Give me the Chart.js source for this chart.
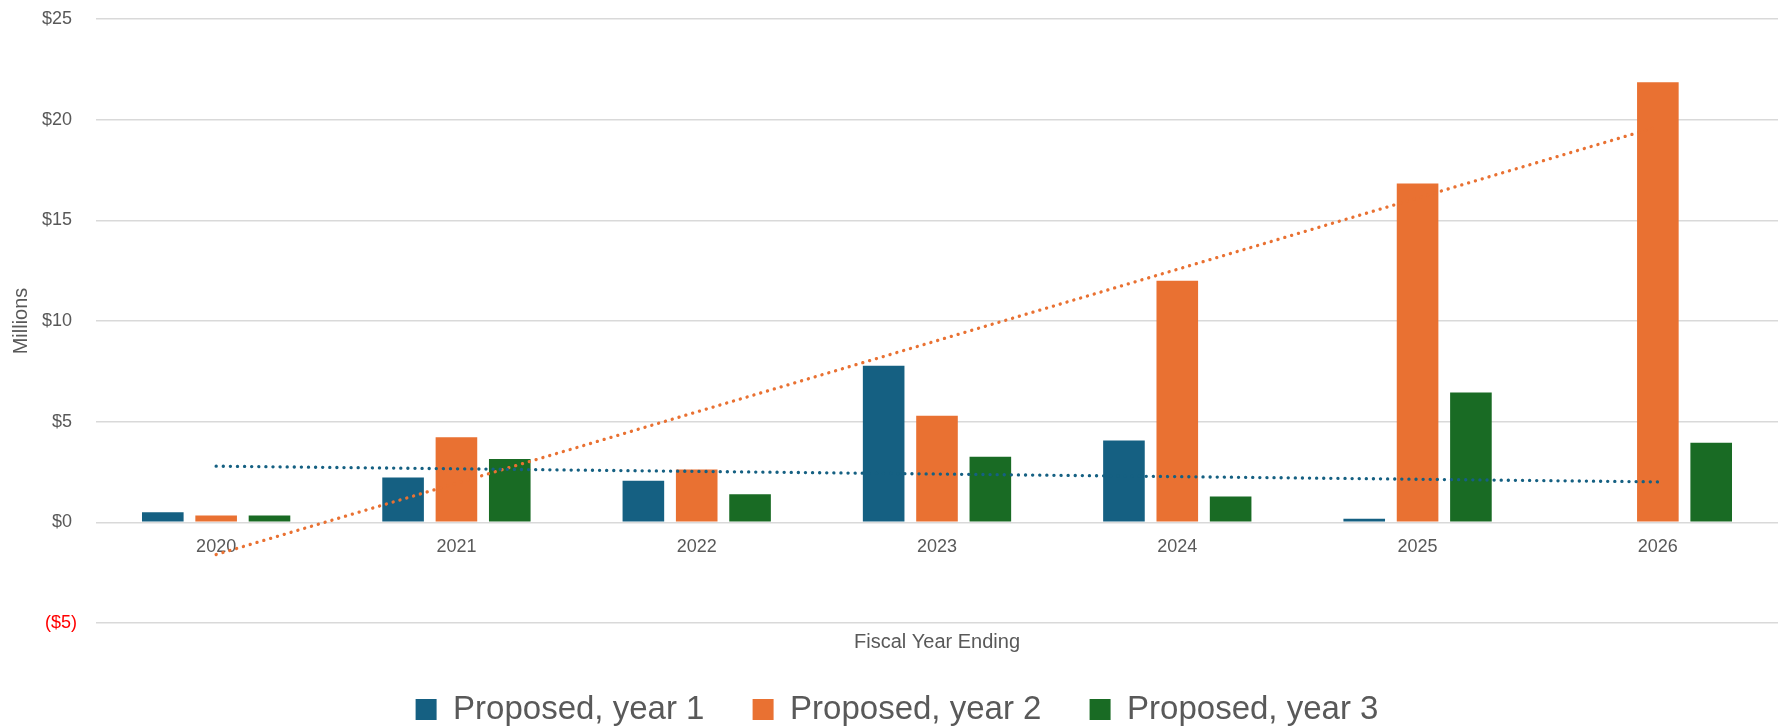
<!DOCTYPE html>
<html>
<head>
<meta charset="utf-8">
<title>Proposed amounts by fiscal year</title>
<script src="https://cdn.jsdelivr.net/npm/chart.js@4.4.1/dist/chart.umd.min.js"></script>
<style>
  html, body { margin: 0; padding: 0; background: #ffffff; }
  canvas { display: block; }
</style>
</head>
<body>
<canvas id="chart" width="1785" height="726"></canvas>
<script>
// Values in millions of dollars
const years = ['2020', '2021', '2022', '2023', '2024', '2025', '2026'];
const year1 = [0.50, 2.23, 2.06, 7.78, 4.06, 0.18, 0];
const year2 = [0.34, 4.22, 2.62, 5.30, 12.00, 16.83, 21.86];
const year3 = [0.34, 3.14, 1.40, 3.26, 1.28, 6.45, 3.95];

// Linear trendlines (only the end points are shown, dotted)
const trend1 = [2.79, null, null, null, null, null, 2.01];
const trend2 = [-1.60, null, null, null, null, null, 19.65];

const seriesNames = ['Proposed, year 1', 'Proposed, year 2', 'Proposed, year 3'];
const seriesColors = ['#156082', '#E97132', '#196B24'];

const textColor = '#595959';
const gridColor = '#d9d9d9';

Chart.defaults.font.family = "'Liberation Sans', Arial, sans-serif";
Chart.defaults.color = textColor;

function trendDataset(data, color) {
    return {
        type: 'line',
        data: data,
        xAxisID: 'x',
        borderColor: color,
        borderWidth: 3.3,
        borderDash: [0.1, 7.0],
        borderCapStyle: 'round',
        pointRadius: 0,
        fill: false,
        tension: 0,
        spanGaps: true,
        order: -1
    };
}

function barDataset(i, data) {
    return {
        label: seriesNames[i],
        data: data,
        xAxisID: 'x',
        backgroundColor: seriesColors[i],
        borderWidth: 0,
        categoryPercentage: 0.666,
        barPercentage: 0.78
    };
}

const ctx = document.getElementById('chart').getContext('2d');
new Chart(ctx, {
    type: 'bar',
    data: {
        labels: years,
        datasets: [
            barDataset(0, year1),
            barDataset(1, year2),
            barDataset(2, year3),
            trendDataset(trend1, seriesColors[0]),
            trendDataset(trend2, seriesColors[1])
        ]
    },
    options: {
        responsive: false,
        animation: false,
        layout: {
            padding: { top: 19, right: 7, bottom: 0, left: 16 }
        },
        scales: {
            x: {
                type: 'category',
                position: { y: 0 },
                offset: true,
                grid: { display: false, drawTicks: false },
                border: { display: false },
                ticks: {
                    font: { size: 18 },
                    color: textColor,
                    padding: 14,
                    maxRotation: 0
                }
            },
            xTitle: {
                type: 'category',
                position: 'bottom',
                grid: { display: false, drawTicks: false },
                border: { display: false },
                ticks: { display: false },
                title: {
                    display: true,
                    text: 'Fiscal Year Ending',
                    font: { size: 20 },
                    color: textColor,
                    padding: { top: 7, bottom: 33 }
                }
            },
            y: {
                min: -5,
                max: 25,
                afterFit: function(scale) {
                    // fixed axis width, and no extra room above/below for the labels
                    scale.width = 80;
                    scale.paddingTop = 0;
                    scale.paddingBottom = 0;
                },
                grid: {
                    color: gridColor,
                    lineWidth: 1.5,
                    drawTicks: false
                },
                border: { display: false },
                ticks: {
                    stepSize: 5,
                    padding: 19,
                    font: { size: 18 },
                    color: function(c) {
                        return c.tick && c.tick.value < 0 ? '#ff0000' : textColor;
                    },
                    callback: function(value) {
                        return value < 0 ? '($' + Math.abs(value) + ')' : '$' + value + ' ';
                    }
                },
                title: {
                    display: true,
                    text: 'Millions',
                    font: { size: 20, lineHeight: 0.55 },
                    color: textColor,
                    padding: 0
                }
            }
        },
        plugins: {
            tooltip: { enabled: false },
            legend: {
                position: 'bottom',
                maxHeight: 39,
                labels: {
                    font: { size: 33 },
                    color: textColor,
                    boxWidth: 21,
                    boxHeight: 21,
                    padding: 6,
                    generateLabels: function(chart) {
                        const items = Chart.defaults.plugins.legend.labels.generateLabels(chart)
                            .filter(item => item.datasetIndex < 3);
                        // widen the gap between legend entries
                        items.forEach((item, i) => {
                            if (i < items.length - 1) item.text += '\u2003 ';
                        });
                        return items;
                    }
                }
            }
        }
    }
});
</script>
</body>
</html>
